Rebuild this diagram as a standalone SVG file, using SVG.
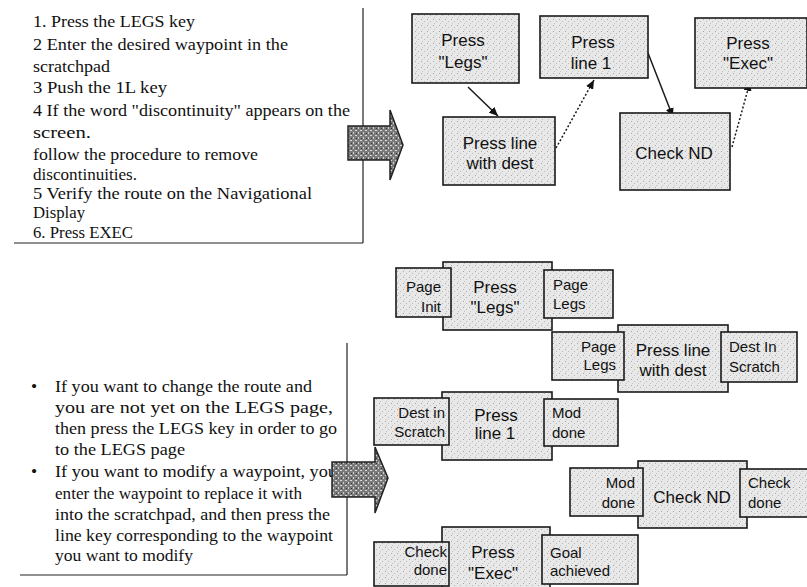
<svg xmlns="http://www.w3.org/2000/svg" width="807" height="587" viewBox="0 0 807 587">
  <style>
    .box { fill: url(#stipple); stroke: #1a1a1a; stroke-width: 1.6; }
    .lbl { font-family: "Liberation Sans", Arial, sans-serif; font-size: 17px; fill: #111; }
    .sm { font-family: "Liberation Sans", Arial, sans-serif; font-size: 15px; fill: #111; }
    .txt { font-family: "Liberation Serif", "Times New Roman", serif; font-size: 17px; fill: #111; }
    .txt2 { font-family: "Liberation Serif", "Times New Roman", serif; font-size: 17.5px; fill: #111; }
    .rule { stroke: #222; stroke-width: 1.2; fill: none; }
    .link { stroke: #1a1a1a; stroke-width: 1.5; fill: none; }
    .dot { stroke-dasharray: 2 2; }
    .block { fill: url(#halftone); stroke: #222; stroke-width: 1.5; }
  </style>
  <defs>
    <pattern id="stipple" width="6" height="6" patternUnits="userSpaceOnUse">
      <rect width="6" height="6" fill="#e8e8e8"/>
      <rect x="1" y="1" width="1" height="1" fill="#a8a8a8"/>
      <rect x="4" y="3" width="1" height="1" fill="#b8b8b8"/>
      <rect x="2" y="5" width="1" height="1" fill="#c4c4c4"/>
    </pattern>
    <pattern id="halftone" width="5" height="5" patternUnits="userSpaceOnUse">
      <rect width="5" height="5" fill="#7a7a7a"/>
      <rect x="0" y="0" width="2" height="1" fill="#d8d8d8"/>
      <rect x="3" y="2" width="1" height="2" fill="#cfcfcf"/>
      <rect x="1" y="3" width="1" height="1" fill="#333"/>
    </pattern>
    <marker id="head" markerWidth="9" markerHeight="8" refX="9" refY="4" orient="auto" markerUnits="userSpaceOnUse">
      <path d="M0,0 L9,4 L0,8 Z" fill="#111"/>
    </marker>
  </defs>

  <!-- procedure text, upper block -->
  <g id="steps">
    <text class="txt" x="33" y="27" textLength="162" lengthAdjust="spacingAndGlyphs">1. Press the LEGS key</text>
    <text class="txt" x="33" y="50" textLength="255" lengthAdjust="spacingAndGlyphs">2  Enter the desired waypoint in the</text>
    <text class="txt" x="33" y="72" textLength="77" lengthAdjust="spacingAndGlyphs">scratchpad</text>
    <text class="txt" x="33" y="93" textLength="134" lengthAdjust="spacingAndGlyphs">3  Push the 1L key</text>
    <text class="txt" x="33" y="116" textLength="317" lengthAdjust="spacingAndGlyphs">4  If the word "discontinuity" appears on the</text>
    <text class="txt" x="33" y="138" textLength="58" lengthAdjust="spacingAndGlyphs">screen.</text>
    <text class="txt" x="33" y="160" textLength="225" lengthAdjust="spacingAndGlyphs">follow the procedure to remove</text>
    <text class="txt" x="33" y="180" textLength="104" lengthAdjust="spacingAndGlyphs">discontinuities.</text>
    <text class="txt" x="33" y="199" textLength="279" lengthAdjust="spacingAndGlyphs">5  Verify the route on the Navigational</text>
    <text class="txt" x="33" y="218" textLength="52" lengthAdjust="spacingAndGlyphs">Display</text>
    <text class="txt" x="33" y="238" textLength="100" lengthAdjust="spacingAndGlyphs">6. Press EXEC</text>
    <path class="rule" d="M363,8 V243 M14,243 H363"/>
  </g>

  <!-- procedure text, lower block -->
  <g id="notes">
    <text class="txt2" x="31" y="392">•</text>
    <text class="txt2" x="55" y="392" textLength="257" lengthAdjust="spacingAndGlyphs">If you want to change the route and</text>
    <text class="txt2" x="55" y="413" textLength="278" lengthAdjust="spacingAndGlyphs">you are not yet on the LEGS page,</text>
    <text class="txt2" x="55" y="434" textLength="282" lengthAdjust="spacingAndGlyphs">then press the LEGS key in order to go</text>
    <text class="txt2" x="55" y="455" textLength="130" lengthAdjust="spacingAndGlyphs">to the LEGS page</text>
    <text class="txt2" x="31" y="477">•</text>
    <text class="txt2" x="55" y="477" textLength="282" lengthAdjust="spacingAndGlyphs">If you want to modify a waypoint, you</text>
    <text class="txt2" x="55" y="499" textLength="247" lengthAdjust="spacingAndGlyphs">enter the waypoint to replace it with</text>
    <text class="txt2" x="55" y="520" textLength="275" lengthAdjust="spacingAndGlyphs">into the scratchpad, and then press the</text>
    <text class="txt2" x="55" y="541" textLength="278" lengthAdjust="spacingAndGlyphs">line key corresponding to the waypoint</text>
    <text class="txt2" x="55" y="561" textLength="138" lengthAdjust="spacingAndGlyphs">you want to modify</text>
    <path class="rule" d="M347,343 V575 M20,575 H347"/>
  </g>

  <!-- block arrows pointing to the diagrams -->
  <g id="arrow-top">
    <path class="block" d="M348,126 H390 V110 L403,145 L390,180 V160 H348 Z"/>
  </g>
  <g id="arrow-bottom">
    <path class="block" d="M332,462 H375 V447 L388,478 L375,513 V497 H332 Z"/>
  </g>

  <!-- step graph -->
  <g id="connectors">
    <line class="link" x1="468" y1="87" x2="498" y2="116" marker-end="url(#head)"/>
    <line class="link dot" x1="556" y1="148" x2="594" y2="80" marker-end="url(#head)"/>
    <line class="link" x1="648" y1="53" x2="673" y2="117" marker-end="url(#head)"/>
    <line class="link dot" x1="732" y1="147" x2="750" y2="82" marker-end="url(#head)"/>
  </g>

  <g id="g-legs">
    <rect class="box" x="412" y="14" width="107" height="69"/>
    <text class="lbl" x="463" y="46" text-anchor="middle">Press</text>
    <text class="lbl" x="463" y="68" text-anchor="middle">"Legs"</text>
  </g>
  <g id="g-line1">
    <rect class="box" x="540" y="16" width="108" height="62"/>
    <text class="lbl" x="593" y="48" text-anchor="middle">Press</text>
    <text class="lbl" x="591" y="69" text-anchor="middle">line 1</text>
  </g>
  <g id="g-exec">
    <rect class="box" x="695" y="18" width="112" height="70"/>
    <text class="lbl" x="748" y="49" text-anchor="middle">Press</text>
    <text class="lbl" x="748" y="69" text-anchor="middle">"Exec"</text>
  </g>
  <g id="g-dest">
    <rect class="box" x="443" y="117" width="112" height="68"/>
    <text class="lbl" x="500" y="149" text-anchor="middle">Press line</text>
    <text class="lbl" x="500" y="169" text-anchor="middle">with dest</text>
  </g>
  <g id="g-checknd">
    <rect class="box" x="620" y="113" width="110" height="77"/>
    <text class="lbl" x="674" y="159" text-anchor="middle">Check ND</text>
  </g>

  <!-- operator: Press "Legs" -->
  <g id="op-legs">
    <rect class="box" x="443" y="262" width="109" height="68"/>
    <text class="lbl" x="495" y="293" text-anchor="middle">Press</text>
    <text class="lbl" x="495" y="313" text-anchor="middle">"Legs"</text>
  </g>
  <g id="pre-legs">
    <rect class="box" x="396" y="268" width="55" height="49"/>
    <text class="sm" x="441" y="292" text-anchor="end">Page</text>
    <text class="sm" x="441" y="312" text-anchor="end">Init</text>
  </g>
  <g id="post-legs">
    <rect class="box" x="544" y="270" width="69" height="48"/>
    <text class="sm" x="553" y="290">Page</text>
    <text class="sm" x="553" y="309">Legs</text>
  </g>

  <!-- operator: Press line with dest -->
  <g id="op-dest">
    <rect class="box" x="618" y="325" width="110" height="67"/>
    <text class="lbl" x="673" y="356" text-anchor="middle">Press line</text>
    <text class="lbl" x="673" y="376" text-anchor="middle">with dest</text>
  </g>
  <g id="pre-dest">
    <rect class="box" x="552" y="332" width="72" height="48"/>
    <text class="sm" x="616" y="352" text-anchor="end">Page</text>
    <text class="sm" x="616" y="370" text-anchor="end">Legs</text>
  </g>
  <g id="post-dest">
    <rect class="box" x="721" y="332" width="76" height="50"/>
    <text class="sm" x="729" y="352">Dest In</text>
    <text class="sm" x="729" y="372">Scratch</text>
  </g>

  <!-- operator: Press line 1 -->
  <g id="op-line1">
    <rect class="box" x="442" y="392" width="110" height="68"/>
    <text class="lbl" x="496" y="421" text-anchor="middle">Press</text>
    <text class="lbl" x="495" y="439" text-anchor="middle">line 1</text>
  </g>
  <g id="pre-line1">
    <rect class="box" x="374" y="398" width="75" height="47"/>
    <text class="sm" x="445" y="418" text-anchor="end">Dest in</text>
    <text class="sm" x="445" y="437" text-anchor="end">Scratch</text>
  </g>
  <g id="post-line1">
    <rect class="box" x="544" y="399" width="74" height="47"/>
    <text class="sm" x="552" y="418">Mod</text>
    <text class="sm" x="552" y="438">done</text>
  </g>

  <!-- operator: Check ND -->
  <g id="op-checknd">
    <rect class="box" x="638" y="461" width="109" height="67"/>
    <text class="lbl" x="692" y="503" text-anchor="middle">Check ND</text>
  </g>
  <g id="pre-checknd">
    <rect class="box" x="570" y="468" width="73" height="48"/>
    <text class="sm" x="635" y="488" text-anchor="end">Mod</text>
    <text class="sm" x="635" y="508" text-anchor="end">done</text>
  </g>
  <g id="post-checknd">
    <rect class="box" x="740" y="469" width="70" height="48"/>
    <text class="sm" x="748" y="488">Check</text>
    <text class="sm" x="748" y="508">done</text>
  </g>

  <!-- operator: Press "Exec" -->
  <g id="op-exec">
    <rect class="box" x="442" y="527" width="108" height="70"/>
    <text class="lbl" x="493" y="558" text-anchor="middle">Press</text>
    <text class="lbl" x="493" y="579" text-anchor="middle">"Exec"</text>
  </g>
  <g id="pre-exec">
    <rect class="box" x="374" y="542" width="75" height="44"/>
    <text class="sm" x="447" y="557" text-anchor="end">Check</text>
    <text class="sm" x="447" y="575" text-anchor="end">done</text>
  </g>
  <g id="post-exec">
    <rect class="box" x="542" y="535" width="96" height="49"/>
    <text class="sm" x="550" y="558">Goal</text>
    <text class="sm" x="550" y="576">achieved</text>
  </g>
</svg>
